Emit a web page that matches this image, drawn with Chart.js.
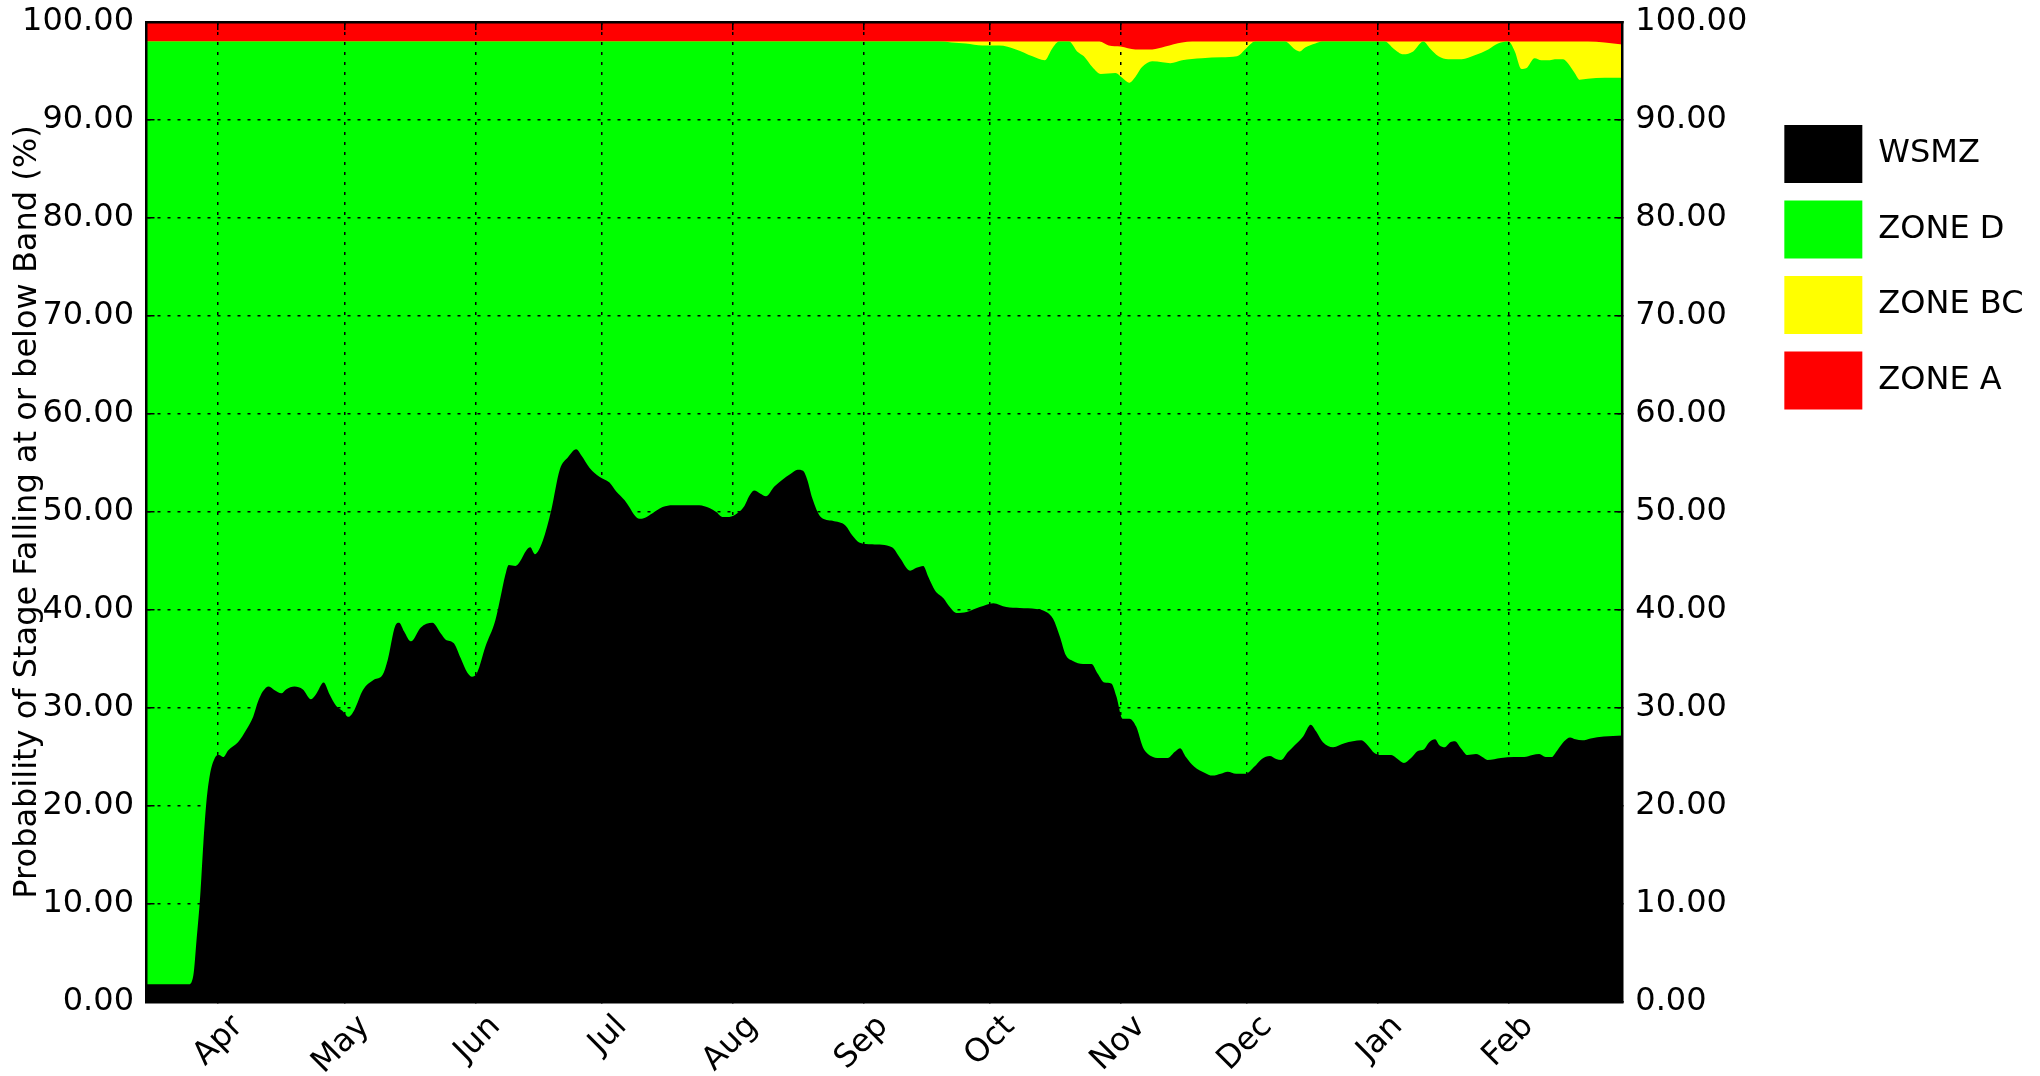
<!DOCTYPE html>
<html>
<head>
<meta charset="utf-8">
<script src="https://cdn.jsdelivr.net/npm/chart.js@4/dist/chart.umd.min.js"></script>
<style>
  body { margin: 0; background: #fff; }
</style>
</head>
<body>
<canvas id="bandChart" width="2040" height="1076"></canvas>
<script>
// days counted from 15 Mar (day 0) to 28 Feb (day 350)
const monthDays = [17, 47, 78, 108, 139, 170, 200, 231, 261, 292, 323];
const monthNames = ['Apr', 'May', 'Jun', 'Jul', 'Aug', 'Sep', 'Oct', 'Nov', 'Dec', 'Jan', 'Feb'];
const yTicks = [0, 10, 20, 30, 40, 50, 60, 70, 80, 90, 100];

// cumulative probability (%) of falling at or below each band
const wsmzDays = [0, 10, 11.1, 11.9, 12.7, 13.5, 14.2, 15, 16.2, 17.2, 18.2, 19.4, 21.7, 23.7, 25.3, 26.4, 27.6, 29, 30.4, 32, 33.1, 35.1, 37.1, 39, 40.2, 42, 43.4, 45, 46.5, 47.9, 49.3, 51.3, 54, 56, 57.2, 59, 59.9, 61.1, 62.7, 65, 67.8, 69.8, 70.9, 72.9, 74.5, 76.1, 77.2, 78.4, 80.4, 82.7, 83.9, 85.1, 85.9, 87.5, 88.5, 90.1, 91, 92.1, 94, 96, 98, 100, 101.9, 103.1, 105.1, 107.4, 109.8, 111.4, 113.4, 114.5, 115.7, 116.9, 118.1, 120.1, 122.4, 124.8, 128, 131.1, 133.5, 135.1, 136.6, 138.2, 140.2, 141.8, 142.9, 144.1, 145.5, 146.9, 148.9, 150.8, 152.8, 154.4, 155.7, 156.7, 157.9, 159.9, 162.7, 165.8, 167.4, 169, 172.1, 176.8, 178.7, 181.1, 182.6, 184.2, 185.4, 187, 189, 190.5, 192.1, 194.5, 197.6, 200.8, 203.9, 207.1, 211, 213.4, 215, 216.6, 218, 219.7, 222.1, 224.1, 225.6, 227.2, 228.8, 230, 231.5, 233.1, 234.7, 236.3, 238.2, 240.2, 242.2, 243.8, 245.1, 246.5, 248.5, 250.9, 252.8, 254.8, 256.4, 258.4, 260.7, 262.7, 264.5, 266.4, 267.9, 269.1, 270.7, 272.3, 274.3, 276.1, 277.4, 279, 281.4, 284.1, 288.1, 289.6, 291.2, 292.8, 295.2, 296.7, 298.2, 299.9, 301.5, 303, 304.2, 305.6, 306.6, 307.9, 309.2, 310.3, 311.7, 313.3, 315.3, 316.8, 318, 321.2, 324.3, 326.7, 328.7, 330.3, 331.8, 333.2, 334.6, 336.2, 337.6, 338.9, 340.5, 342.5, 345.6, 350];
const wsmzPct = [1.8, 1.8, 2.7, 6.5, 10.6, 16.3, 20.4, 23.1, 24.9, 25.2, 25.0, 25.7, 26.5, 27.8, 29.1, 30.6, 31.7, 32.2, 31.8, 31.5, 31.9, 32.2, 31.9, 30.9, 31.4, 32.6, 31.4, 30.2, 29.7, 29.1, 29.8, 31.8, 32.9, 33.4, 34.9, 38.4, 38.7, 37.8, 36.8, 38.2, 38.7, 37.6, 37.0, 36.6, 35.1, 33.6, 33.2, 33.6, 36.3, 38.9, 41.2, 43.6, 44.6, 44.5, 44.9, 46.1, 46.4, 45.7, 47.1, 50.2, 54.3, 55.6, 56.4, 55.8, 54.5, 53.6, 53.0, 52.1, 51.2, 50.5, 49.7, 49.3, 49.4, 49.9, 50.5, 50.7, 50.7, 50.7, 50.4, 50.0, 49.5, 49.5, 49.9, 50.6, 51.6, 52.2, 51.9, 51.6, 52.6, 53.3, 53.9, 54.3, 54.2, 53.3, 51.4, 49.5, 49.1, 48.6, 47.6, 46.9, 46.7, 46.4, 45.3, 44.0, 44.3, 44.5, 43.4, 42.0, 41.2, 40.3, 39.7, 39.8, 40.3, 40.7, 40.3, 40.2, 40.1, 39.8, 39.1, 37.3, 35.4, 34.8, 34.5, 34.5, 33.5, 32.6, 32.5, 31.2, 28.9, 28.9, 28.1, 26.0, 25.1, 24.9, 24.9, 25.5, 25.9, 25.0, 24.0, 23.4, 23.1, 23.3, 23.5, 23.3, 23.3, 24.0, 24.8, 25.1, 24.8, 24.7, 25.5, 26.2, 27.1, 28.3, 27.6, 26.5, 26.0, 26.4, 26.7, 26.2, 25.4, 25.2, 25.2, 24.8, 24.4, 24.9, 25.6, 25.8, 26.5, 26.8, 26.2, 26.0, 26.5, 26.6, 25.9, 25.2, 25.3, 25.0, 24.7, 24.9, 25.0, 25.0, 25.2, 25.3, 25.0, 25.0, 25.7, 26.6, 27.0, 26.8, 26.7, 26.9, 27.1, 27.2];

const zoneDDays = [0, 188, 191, 194.3, 198.3, 202.2, 206.2, 210.1, 213, 214.8, 216.4, 218.8, 220.7, 222.3, 224.3, 226.3, 229.8, 231.4, 233, 234.5, 236.1, 238.5, 240.9, 242.8, 245.6, 250.3, 255, 258.6, 261, 262.9, 270, 272.4, 273.5, 274.8, 277.2, 278.8, 293.7, 295.7, 298.1, 300.4, 302.8, 304.4, 306.4, 308.7, 311.9, 315, 318.2, 320.5, 323, 324.5, 326.1, 327.3, 329.2, 330.8, 332.8, 334, 335.9, 337.1, 338.7, 339.9, 341.8, 345.8, 350];
const zoneDPct = [98, 98, 97.9, 97.8, 97.6, 97.6, 97.2, 96.5, 96.1, 97.3, 98, 98, 97.0, 96.5, 95.4, 94.7, 94.8, 94.3, 93.8, 94.4, 95.4, 96.0, 95.9, 95.8, 96.1, 96.3, 96.4, 96.5, 97.4, 98, 98, 97.2, 97.0, 97.4, 97.8, 98, 98, 97.3, 96.7, 97.0, 98, 97.3, 96.5, 96.2, 96.2, 96.6, 97.2, 97.8, 98, 97.0, 95.2, 95.3, 96.3, 96.1, 96.1, 96.2, 96.2, 95.8, 94.8, 94.1, 94.2, 94.3, 94.3];

const zoneBCDays = [0, 226, 228.2, 231, 234.5, 238.5, 241.6, 245.6, 248, 341.8, 345.8, 350];
const zoneBCPct = [98, 98, 97.6, 97.5, 97.2, 97.2, 97.5, 97.9, 98, 98, 97.9, 97.7];

const zoneADays = [0, 350];
const zoneAPct = [100, 100];

function toPoints(days, pct) {
  return days.map((d, i) => ({ x: d, y: pct[i] }));
}

function bandDataset(label, days, pct, color) {
  return {
    label: label,
    data: toPoints(days, pct),
    backgroundColor: color,
    borderColor: 'rgba(0, 0, 0, 0)',
    borderWidth: 0,
    fill: 'origin',
    pointRadius: 0,
    pointHoverRadius: 0,
    cubicInterpolationMode: 'monotone'
  };
}

const monthTicks = (scale) => {
  scale.ticks = monthDays.map(d => ({ value: d }));
};
const pctTicks = (scale) => {
  scale.ticks = yTicks.map(v => ({ value: v }));
};

// fixed axis sizes, without the extra label padding chart.js reserves
function fixSize(width, height) {
  return (scale) => {
    if (width !== null) scale.width = width;
    if (height !== null) scale.height = height;
    scale.paddingTop = 0;
    scale.paddingBottom = 0;
    scale.paddingLeft = 0;
    scale.paddingRight = 0;
  };
}

Chart.defaults.font.family = "'DejaVu Sans', sans-serif";
Chart.defaults.font.size = 32;
Chart.defaults.color = '#000000';

// grid and frame go on top of the filled bands
const gridLines = {
  z: 1,
  color: '#000000',
  lineWidth: 1.5,
  drawTicks: true,
  tickLength: -8,
  tickWidth: 1.5,
  tickColor: '#000000'
};
const frame = { display: true, z: 1, color: '#000000', width: 2.5, dash: [3, 7] };

const ctx = document.getElementById('bandChart').getContext('2d');
const bandChart = new Chart(ctx, {
  type: 'line',
  data: {
    datasets: [
      bandDataset('WSMZ', wsmzDays, wsmzPct, '#000000'),
      bandDataset('ZONE D', zoneDDays, zoneDPct, '#00ff00'),
      bandDataset('ZONE BC', zoneBCDays, zoneBCPct, '#ffff00'),
      bandDataset('ZONE A', zoneADays, zoneAPct, '#ff0000')
    ]
  },
  options: {
    responsive: false,
    devicePixelRatio: 1,
    animation: false,
    layout: {
      padding: { top: 22, left: 0, right: 6.5, bottom: 0 }
    },
    plugins: {
      tooltip: { enabled: false },
      legend: {
        position: 'right',
        align: 'start',
        title: { display: true, text: '', font: { size: 10 }, padding: { top: 0, bottom: 73.5 } },
        labels: {
          boxWidth: 78,
          boxHeight: 58,
          padding: 17.5,
          color: '#000000',
          font: { size: 32 }
        }
      }
    },
    scales: {
      x: {
        type: 'linear',
        position: 'bottom',
        min: 0,
        max: 350,
        afterBuildTicks: monthTicks,
        afterFit: fixSize(null, 74),
        grid: gridLines,
        border: frame,
        ticks: {
          autoSkip: false,
          minRotation: 45,
          maxRotation: 45,
          padding: 14,
          labelOffset: 20,
          callback: (value, index) => monthNames[index]
        }
      },
      xTop: {
        type: 'linear',
        position: 'top',
        min: 0,
        max: 350,
        afterBuildTicks: monthTicks,
        afterFit: fixSize(null, 0),
        grid: Object.assign({}, gridLines, { drawOnChartArea: false }),
        border: frame,
        ticks: { display: false }
      },
      y: {
        position: 'left',
        min: 0,
        max: 100,
        afterBuildTicks: pctTicks,
        afterFit: fixSize(146.5, null),
        grid: gridLines,
        border: frame,
        ticks: {
          padding: 20.5,
          callback: (value) => value.toFixed(2)
        },
        title: {
          display: true,
          text: 'Probability of Stage Falling at or below Band (%)',
          font: { size: 32 },
          padding: { top: 8, bottom: 0 }
        }
      },
      yRight: {
        position: 'right',
        min: 0,
        max: 100,
        afterBuildTicks: pctTicks,
        afterFit: fixSize(144.5, null),
        grid: Object.assign({}, gridLines, { drawOnChartArea: false }),
        border: frame,
        ticks: {
          padding: 21,
          callback: (value) => value.toFixed(2)
        }
      }
    }
  }
});
</script>
</body>
</html>
